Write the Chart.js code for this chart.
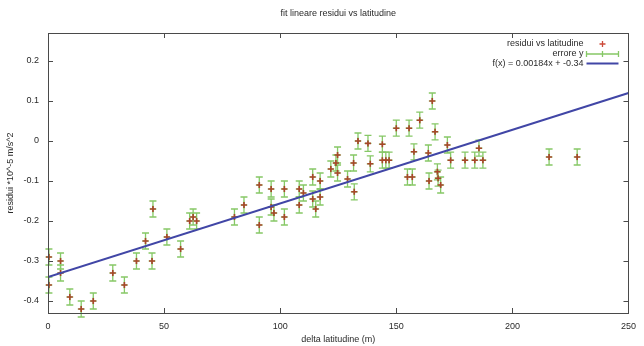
<!DOCTYPE html>
<html>
<head>
<meta charset="utf-8">
<script src="https://cdn.jsdelivr.net/npm/chart.js@4.4.1/dist/chart.umd.min.js"></script>
<style>
  html, body { margin: 0; padding: 0; background: #fff; }
  #wrap { width: 644px; height: 346px; }
</style>
</head>
<body>
<div id="wrap"><canvas id="c" width="644" height="346"></canvas></div>
<script>
// delta latitudine (m)
const deltaLat = [
  0.4, 0.4, 5.4, 5.4, 9.4, 14.3, 19.5, 27.9, 32.9, 38.1,
  42.0, 44.8, 45.2, 51.2, 57.1, 61.0, 62.5, 64.0, 80.3, 84.4,
  91.0, 91.0, 96.1, 96.1, 97.3, 101.8, 101.8, 108.2, 108.2, 110.0,
  114.0, 114.0, 115.3, 117.2, 117.2, 121.8, 124.0, 124.7, 124.7, 129.0,
  131.6, 131.9, 133.5, 137.8, 138.8, 144.0, 144.0, 145.5, 146.9, 150.0,
  155.5, 154.8, 156.9, 157.6, 160.1, 163.8, 164.1, 165.5, 166.7, 167.7,
  168.0, 169.1, 172.0, 173.4, 179.6, 183.8, 185.6, 187.3, 215.8, 227.9
];
// residui *10^-5 m/s^2
const residui = [
  -0.29, -0.36, -0.30, -0.33, -0.39, -0.42, -0.40, -0.33, -0.36, -0.30,
  -0.25, -0.30, -0.17, -0.24, -0.27, -0.20, -0.19, -0.20, -0.19, -0.16,
  -0.11, -0.21, -0.12, -0.165, -0.18, -0.12, -0.19, -0.12, -0.16, -0.13,
  -0.09, -0.145, -0.17, -0.10, -0.14, -0.07, -0.055, -0.035, -0.08, -0.095,
  -0.055, -0.127, 0.0, -0.006, -0.057, -0.008, -0.048, -0.048, -0.048, 0.032,
  0.032, -0.09, -0.09, -0.027, 0.052, -0.03, -0.10, 0.10, 0.023, -0.077,
  -0.093, -0.11, -0.01, -0.048, -0.048, -0.048, -0.018, -0.048, -0.04, -0.04
];
// errore y (same for every point)
const erroreY = 0.02;

// linear fit parameters: f(x) = a*x + b
const fitA = 0.00184;
const fitB = -0.34;

const xTicks = [0, 50, 100, 150, 200, 250];
const yTicks = [-0.4, -0.3, -0.2, -0.1, 0, 0.1, 0.2];
const xRange = [0, 250];
const yRange = [-0.43, 0.27];

const titleText = 'fit lineare residui vs latitudine';
const labelPoints = 'residui vs latitudine';
const labelErr = 'errore y';
const labelFit = 'f(x) = ' + fitA + 'x + ' + fitB;

const RED = '#a8452a';
const GREEN = '#86c866';
const BLUE = '#4146a6';
const TEXT = '#2a2a2a';
const FONT = 'Liberation Sans, Arial, sans-serif';

const points = deltaLat.map((x, i) => ({ x: x, y: residui[i] }));
const fitLine = xRange.map(x => ({ x: x, y: fitA * x + fitB }));

// title centred over the plot area
const plotTitle = {
  id: 'plotTitle',
  afterDraw(chart) {
    const { ctx, chartArea: a } = chart;
    ctx.save();
    ctx.font = '9px ' + FONT;
    ctx.fillStyle = TEXT;
    ctx.textAlign = 'center';
    ctx.textBaseline = 'middle';
    ctx.fillText(titleText, (a.left + a.right) / 2, 14);
    ctx.restore();
  }
};

// vertical error bars with small caps, drawn under the markers
const errorBars = {
  id: 'errorBars',
  beforeDatasetsDraw(chart) {
    const { ctx, scales: { x, y } } = chart;
    ctx.save();
    ctx.strokeStyle = GREEN;
    ctx.lineWidth = 1.3;
    points.forEach(p => {
      const px = x.getPixelForValue(p.x);
      const top = y.getPixelForValue(p.y + erroreY);
      const bot = y.getPixelForValue(p.y - erroreY);
      ctx.beginPath();
      ctx.moveTo(px, top); ctx.lineTo(px, bot);
      ctx.moveTo(px - 3.5, top); ctx.lineTo(px + 3.5, top);
      ctx.moveTo(px - 3.5, bot); ctx.lineTo(px + 3.5, bot);
      ctx.stroke();
    });
    ctx.restore();
  }
};

// closed border with inward tics on all four sides
const frame = {
  id: 'frame',
  afterDatasetsDraw(chart) {
    const { ctx, chartArea: a, scales: { x, y } } = chart;
    const L = 5;
    ctx.save();
    ctx.strokeStyle = '#4a4a4a';
    ctx.lineWidth = 1;
    ctx.strokeRect(Math.round(a.left) + 0.5, Math.round(a.top) + 0.5,
                   Math.round(a.right - a.left), Math.round(a.bottom - a.top));
    ctx.beginPath();
    xTicks.forEach(v => {
      const px = Math.round(x.getPixelForValue(v)) + 0.5;
      ctx.moveTo(px, a.bottom); ctx.lineTo(px, a.bottom - L);
      ctx.moveTo(px, a.top); ctx.lineTo(px, a.top + L);
    });
    yTicks.forEach(v => {
      const py = Math.round(y.getPixelForValue(v)) + 0.5;
      ctx.moveTo(a.left, py); ctx.lineTo(a.left + L, py);
      ctx.moveTo(a.right, py); ctx.lineTo(a.right - L, py);
    });
    ctx.stroke();
    ctx.restore();
  }
};

// key in the top right corner
const key = {
  id: 'key',
  afterDraw(chart) {
    const { ctx, chartArea: a } = chart;
    const textRight = a.right - 45;
    const sx0 = a.right - 42, sx1 = a.right - 10, sxm = (sx0 + sx1) / 2;
    const rows = [a.top + 11, a.top + 21, a.top + 30.5];
    ctx.save();
    ctx.font = '9px ' + FONT;
    ctx.fillStyle = TEXT;
    ctx.textAlign = 'right';
    ctx.textBaseline = 'middle';
    ctx.fillText(labelPoints, textRight, rows[0]);
    ctx.fillText(labelErr, textRight, rows[1]);
    ctx.fillText(labelFit, textRight, rows[2]);
    // red cross
    ctx.strokeStyle = '#cc4a3a'; ctx.lineWidth = 1.3;
    ctx.beginPath();
    ctx.moveTo(sxm - 3, rows[0]); ctx.lineTo(sxm + 3, rows[0]);
    ctx.moveTo(sxm, rows[0] - 3); ctx.lineTo(sxm, rows[0] + 3);
    ctx.stroke();
    // error bar sample
    ctx.strokeStyle = GREEN; ctx.lineWidth = 1.3;
    ctx.beginPath();
    ctx.moveTo(sx0, rows[1]); ctx.lineTo(sx1, rows[1]);
    ctx.moveTo(sx0, rows[1] - 3); ctx.lineTo(sx0, rows[1] + 3);
    ctx.moveTo(sx1, rows[1] - 3); ctx.lineTo(sx1, rows[1] + 3);
    ctx.moveTo(sxm, rows[1] - 3); ctx.lineTo(sxm, rows[1] + 3);
    ctx.stroke();
    // fit line sample
    ctx.strokeStyle = BLUE; ctx.lineWidth = 2;
    ctx.beginPath();
    ctx.moveTo(sx0, rows[2]); ctx.lineTo(sx1, rows[2]);
    ctx.stroke();
    ctx.restore();
  }
};

new Chart(document.getElementById('c'), {
  data: {
    datasets: [
      {
        type: 'scatter', label: labelPoints, data: points,
        pointStyle: 'cross', pointRadius: 3, pointBorderWidth: 1.6,
        borderColor: RED, backgroundColor: RED, clip: false, order: 1
      },
      {
        type: 'scatter', label: labelErr, data: points,
        pointStyle: 'cross', pointRadius: 3.5, pointBorderWidth: 1.2,
        borderColor: GREEN, backgroundColor: GREEN, clip: false, order: 2
      },
      {
        type: 'line', label: labelFit, data: fitLine,
        borderColor: BLUE, borderWidth: 2, pointRadius: 0, fill: false, order: 0
      }
    ]
  },
  options: {
    responsive: false,
    animation: false,
    devicePixelRatio: 1,
    layout: { padding: { left: 0, right: 12, top: 33, bottom: 0 } },
    plugins: {
      legend: { display: false },
      tooltip: { enabled: false },
      title: { display: false }
    },
    scales: {
      x: {
        type: 'linear', min: xRange[0], max: xRange[1],
        afterBuildTicks: s => { s.ticks = xTicks.map(v => ({ value: v })); },
        afterFit: s => { s.height = 33; },
        grid: { display: false, drawTicks: false },
        border: { display: false },
        ticks: { color: TEXT, font: { family: FONT, size: 9 }, padding: 8, maxRotation: 0,
                 callback: v => String(v) },
        title: { display: true, text: 'delta latitudine (m)', color: TEXT,
                 font: { family: FONT, size: 9 }, padding: { top: 0, bottom: 1.5 } }
      },
      y: {
        type: 'linear', min: yRange[0], max: yRange[1],
        afterBuildTicks: s => { s.ticks = yTicks.map(v => ({ value: v })); },
        afterFit: s => { s.width = 48; },
        grid: { display: false, drawTicks: false },
        border: { display: false },
        ticks: { color: TEXT, font: { family: FONT, size: 9 }, padding: 9,
                 callback: v => String(v) },
        title: { display: true, text: 'residui *10^-5 m/s^2', color: TEXT,
                 font: { family: FONT, size: 9 }, padding: { top: 5, bottom: 0 } }
      }
    }
  },
  plugins: [errorBars, frame, key, plotTitle]
});
</script>
</body>
</html>
